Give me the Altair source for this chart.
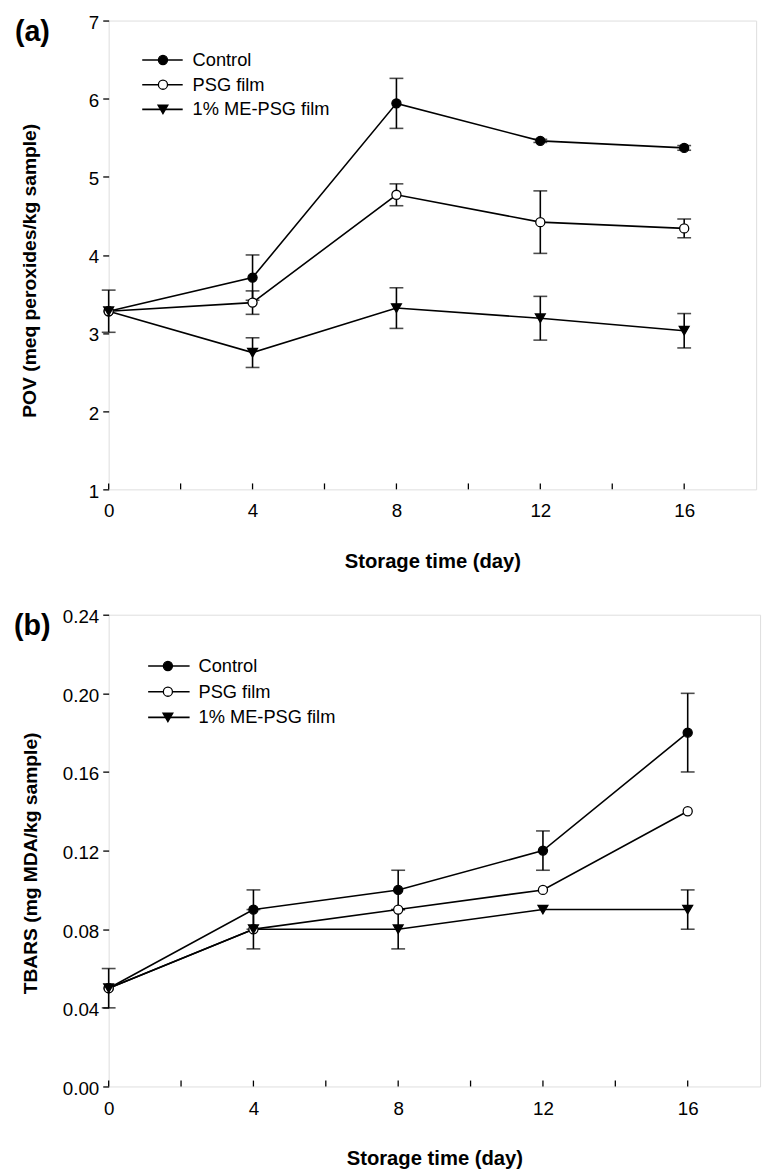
import altair as alt
import pandas as pd

days = [0, 4, 8, 12, 16]
series_names = ["Control", "PSG film", "1% ME-PSG film"]

# Panel (a): POV
pov_control = [3.28, 3.71, 5.94, 5.46, 5.37]
pov_control_err = [0.27, 0.29, 0.32, 0.02, 0.03]
pov_psg = [3.28, 3.39, 4.77, 4.42, 4.34]
pov_psg_err = [0.0, 0.15, 0.14, 0.40, 0.12]
pov_me = [3.28, 2.75, 3.32, 3.19, 3.03]
pov_me_err = [0.0, 0.19, 0.26, 0.28, 0.22]

# Panel (b): TBARS
tbars_control = [0.05, 0.09, 0.10, 0.12, 0.18]
tbars_control_err = [0.01, 0.01, 0.01, 0.01, 0.02]
tbars_psg = [0.05, 0.08, 0.09, 0.10, 0.14]
tbars_psg_err = [0.0, 0.0, 0.0, 0.0, 0.0]
tbars_me = [0.05, 0.08, 0.08, 0.09, 0.09]
tbars_me_err = [0.0, 0.01, 0.01, 0.0, 0.01]

x_tick_values = [0, 2, 4, 6, 8, 10, 12, 14, 16]
x_label_values = [0, 4, 8, 12, 16]
pov_y_ticks = [1, 2, 3, 4, 5, 6, 7]
tbars_y_ticks = [0.0, 0.04, 0.08, 0.12, 0.16, 0.20, 0.24]

FONT = "Liberation Sans"

styles = {
    "Control": dict(shape="circle", fill="black", size=85),
    "PSG film": dict(shape="circle", fill="white", size=85),
    "1% ME-PSG film": dict(shape="triangle-down", fill="black", size=100),
}


def panel(vals, errs, ydomain, yticks, yfmt, ytitle, letter, W, H, leg, ytx, yty, lx, xtp):
    rows = []
    for name, v, e in zip(series_names, vals, errs):
        for d, vv, ee in zip(days, v, e):
            rows.append(dict(day=d, series=name, value=vv, lo=vv - ee, hi=vv + ee, err=ee))
    df = pd.DataFrame(rows)
    xs = alt.Scale(domain=[0, 18], nice=False, zero=False)
    ys = alt.Scale(domain=ydomain, nice=False, zero=False)
    x_enc = alt.X(
        "day:Q", scale=xs,
        axis=alt.Axis(values=x_label_values, title="Storage time (day)", ticks=False,
                      domain=False, grid=False, labelPadding=13, titlePadding=xtp,
                      labelFlush=False,
                      labelFont=FONT, labelFontSize=19, labelColor="black",
                      titleFont=FONT, titleFontSize=20.5, titleFontWeight="bold", titleColor="black"),
    )
    y_enc = alt.Y(
        "value:Q", scale=ys,
        axis=alt.Axis(values=yticks, format=yfmt, title=None, ticks=True, tickSize=6,
                      tickColor="black", tickWidth=1.3, domain=False, grid=False,
                      labelPadding=4, labelOffset=2, labelFlush=False,
                      labelFont=FONT, labelFontSize=19, labelColor="black"),
    )
    base = alt.Chart(df)
    errd = base.transform_filter("datum.err > 0")
    stems = errd.mark_rule(color="black", strokeWidth=1.6).encode(
        x=alt.X("day:Q", scale=xs), y=alt.Y("lo:Q", scale=ys), y2="hi:Q")
    cap_lo = errd.mark_tick(color="black", orient="horizontal", size=14, thickness=1.6).encode(
        x=alt.X("day:Q", scale=xs), y=alt.Y("lo:Q", scale=ys))
    cap_hi = errd.mark_tick(color="black", orient="horizontal", size=14, thickness=1.6).encode(
        x=alt.X("day:Q", scale=xs), y=alt.Y("hi:Q", scale=ys))
    lines = base.mark_line(color="black", strokeWidth=1.6).encode(
        x=x_enc, y=y_enc, detail="series:N")
    layers = [stems, cap_lo, cap_hi, lines]
    for name in series_names:
        st = styles[name]
        layers.append(
            base.transform_filter(alt.datum.series == name).mark_point(
                shape=st["shape"], filled=True, fill=st["fill"], stroke="black",
                strokeWidth=1.3, size=st["size"], opacity=1,
            ).encode(x=alt.X("day:Q", scale=xs), y=alt.Y("value:Q", scale=ys))
        )
    # inward x ticks
    tickdf = pd.DataFrame({"t": x_tick_values})
    layers.append(
        alt.Chart(tickdf).mark_rule(color="black", strokeWidth=1.3).encode(
            x=alt.X("t:Q", scale=xs), y=alt.value(H), y2=alt.value(H - 6))
    )
    # legend
    lx0, lx1, lm, lt, ly0, ldy = leg
    one = pd.DataFrame({"series": series_names})
    for i, name in enumerate(series_names):
        st = styles[name]
        src = alt.Chart(one).transform_filter(alt.datum.series == name)
        yy = ly0 + i * ldy
        layers.append(src.mark_rule(color="black", strokeWidth=1.6).encode(
            x=alt.value(lx0), x2=alt.value(lx1), y=alt.value(yy)))
        layers.append(src.mark_point(shape=st["shape"], filled=True, fill=st["fill"],
                                     stroke="black", strokeWidth=1.3, size=st["size"], opacity=1).encode(
            x=alt.value(lm), y=alt.value(yy)))
        layers.append(src.mark_text(align="left", baseline="middle", font=FONT, fontSize=18.5,
                                    color="black").encode(
            x=alt.value(lt), y=alt.value(yy), text="series:N"))
    # y title as rotated text
    layers.append(
        alt.Chart(pd.DataFrame({"t": [ytitle]})).mark_text(
            align="center", baseline="middle", angle=270, font=FONT, fontSize=19.5,
            fontWeight="bold", color="black"
        ).encode(x=alt.value(ytx), y=alt.value(H / 2 + yty), text="t:N")
    )
    # panel letter
    layers.append(
        alt.Chart(pd.DataFrame({"lab": [letter]})).mark_text(
            align="left", baseline="alphabetic", font=FONT, fontSize=29, fontWeight="bold", color="black"
        ).encode(x=alt.value(lx), y=alt.value(21), text="lab:N")
    )
    return alt.layer(*layers).properties(width=W, height=H)


pa = panel([pov_control, pov_psg, pov_me], [pov_control_err, pov_psg_err, pov_me_err],
           [1, 7], pov_y_ticks, "d", "POV (meq peroxides/kg sample)", "(a)", 656, 475,
           (34, 75, 55, 85, 40, 25), -80, 16, -95, 31)
pb = panel([tbars_control, tbars_psg, tbars_me], [tbars_control_err, tbars_psg_err, tbars_me_err],
           [0, 0.24], tbars_y_ticks, ".2f", "TBARS (mg MDA/kg sample)", "(b)", 660, 478,
           (40, 82, 60, 91, 52, 26), -79, 13, -96, 31)

chart = alt.concat(pa, pb, columns=1, spacing=35, align="none").configure_view(
    stroke="black", strokeWidth=1.5
).configure(background="white", padding={"top": -3, "left": 5, "right": 5, "bottom": 0})

chart.save("out.html", embed_options={"renderer": "svg", "actions": False})
